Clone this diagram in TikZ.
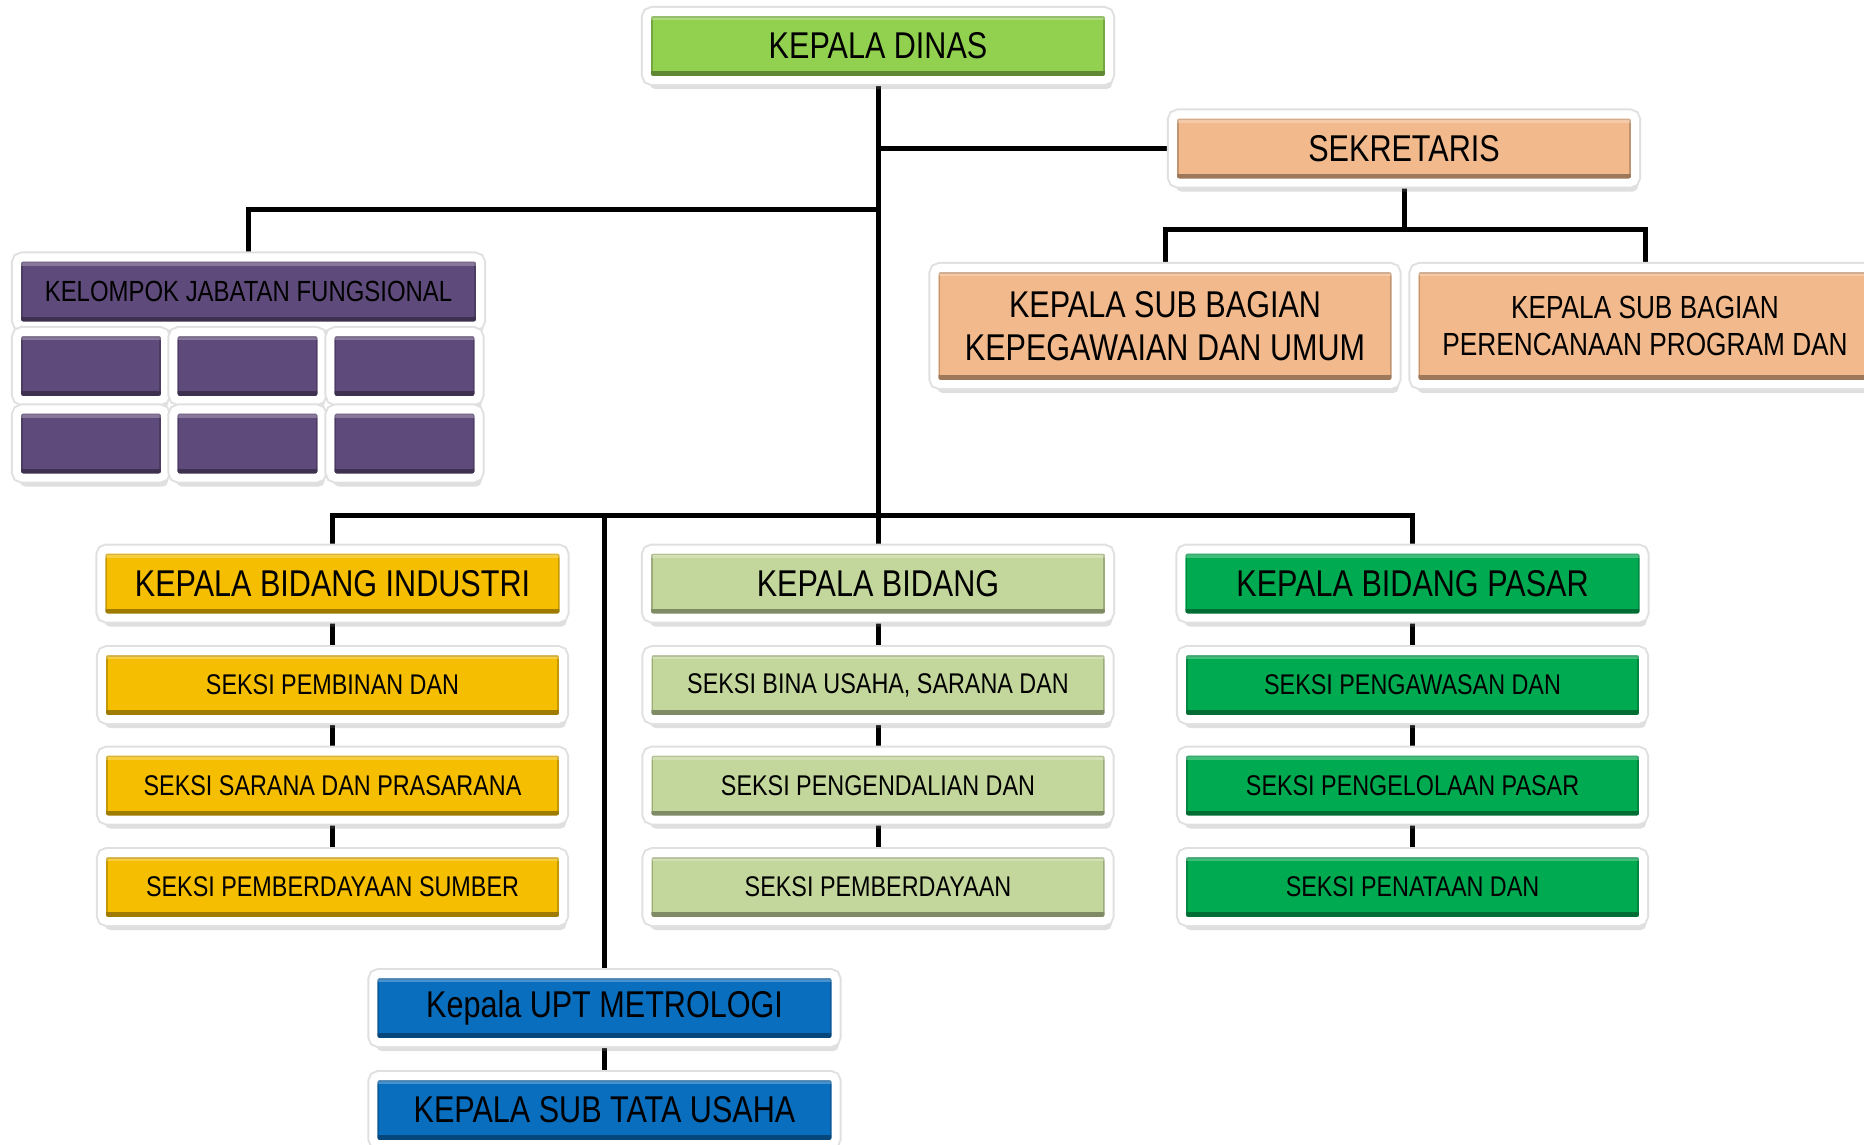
\documentclass[tikz,border=0pt]{standalone}
\usepackage{fontspec}
\setmainfont{Liberation Sans}[FakeStretch=0.82]
\usepackage{xcolor}
\usepackage{tikz}
\usetikzlibrary{shadows}
\definecolor{dinasgreen}{HTML}{92D050}
\definecolor{sekorange}{HTML}{F1B98C}
\definecolor{fungpurple}{HTML}{5F4B7B}
\definecolor{indgold}{HTML}{F5BE00}
\definecolor{bidsage}{HTML}{C3D69B}
\definecolor{pasgreen}{HTML}{00AA50}
\definecolor{uptblue}{HTML}{0A6EBE}
\pgfdeclarelayer{background}
\pgfsetlayers{background,main}
\tikzset{
    orgbox/.style = {rectangle, fill=#1, draw=white, line width=0.08cm, rounded corners=1.5pt,
        inner sep=0pt, align=center, text=black,
        drop shadow={shadow xshift=0.03cm, shadow yshift=-0.09cm, opacity=0.25},
        preaction={draw=black!12, line width=0.12cm},
        path picture={
            \draw[sharp corners, #1!80!black, line width=0.5pt]
                ([shift={(0.05cm,0.05cm)}]path picture bounding box.south west) rectangle
                ([shift={(-0.05cm,-0.05cm)}]path picture bounding box.north east);
            \fill[sharp corners, #1!65!black]
                ([shift={(0.04cm,0.04cm)}]path picture bounding box.south west) rectangle
                ([shift={(-0.04cm,0.09cm)}]path picture bounding box.south east);
            \fill[sharp corners, white, opacity=0.25]
                ([shift={(0.04cm,-0.04cm)}]path picture bounding box.north west) rectangle
                ([shift={(-0.04cm,-0.08cm)}]path picture bounding box.north east);
        }},
    headbox/.style = {orgbox=#1, minimum width=4.62cm, minimum height=0.68cm, font=\fontsize{10.6}{12}\selectfont},
    seksibox/.style = {orgbox=#1, minimum width=4.61cm, minimum height=0.68cm, font=\fontsize{8.1}{9.5}\selectfont},
    subbox/.style = {orgbox=sekorange, minimum width=4.61cm, minimum height=1.16cm},
    fungbox/.style = {orgbox=fungpurple, minimum width=1.48cm, minimum height=0.68cm},
    orgline/.style = {draw=black, line width=0.05cm}
}

\begin{document}
\begin{tikzpicture}[x=0.01cm, y=-0.01cm]
            \useasboundingbox (0,0) rectangle (1864,1144);

            \node[headbox=dinasgreen] (dinas) at (878,46) {KEPALA DINAS};
            \node[headbox=sekorange] (sekretaris) at (1404,148.5) {SEKRETARIS};
            \node[subbox, font=\fontsize{10.6}{12.2}\selectfont] (subumum) at (1165,326)
                {KEPALA SUB BAGIAN\\KEPEGAWAIAN DAN UMUM};
            \node[subbox, font=\fontsize{9.1}{10.5}\selectfont] (subprogram) at (1645,326)
                {KEPALA SUB BAGIAN\\PERENCANAAN PROGRAM DAN};

            \node[orgbox=fungpurple, minimum width=4.63cm, minimum height=0.68cm,
                font=\fontsize{8.3}{10}\selectfont] (jabfung) at (248.5,291.5)
                {KELOMPOK JABATAN FUNGSIONAL};
            \foreach \col/\cx in {1/91, 2/247.5, 3/404.5}
                \foreach \row/\cy in {1/366, 2/443.5}
                    \node[fungbox] (fung\col\row) at (\cx,\cy) {};

            % bidang
            \node[headbox=indgold] (industri) at (332.5,583.5) {KEPALA BIDANG INDUSTRI};
            \node[headbox=bidsage] (bidang) at (878,583.5) {KEPALA BIDANG};
            \node[headbox=pasgreen] (pasar) at (1412.5,583.5) {KEPALA BIDANG PASAR};

            \node[seksibox=indgold] (indsek1) at (332.5,685) {SEKSI PEMBINAN DAN};
            \node[seksibox=indgold] (indsek2) at (332.5,785.5) {SEKSI SARANA DAN PRASARANA};
            \node[seksibox=indgold] (indsek3) at (332.5,887) {SEKSI PEMBERDAYAAN SUMBER};

            \node[seksibox=bidsage] (bidsek1) at (878,685) {SEKSI BINA USAHA, SARANA DAN};
            \node[seksibox=bidsage] (bidsek2) at (878,785.5) {SEKSI PENGENDALIAN DAN};
            \node[seksibox=bidsage] (bidsek3) at (878,887) {SEKSI PEMBERDAYAAN};

            \node[seksibox=pasgreen] (passek1) at (1412.5,685) {SEKSI PENGAWASAN DAN};
            \node[seksibox=pasgreen] (passek2) at (1412.5,785.5) {SEKSI PENGELOLAAN PASAR};
            \node[seksibox=pasgreen] (passek3) at (1412.5,887) {SEKSI PENATAAN DAN};

            % upt
            \node[headbox=uptblue] (upt) at (604.5,1008) {Kepala UPT METROLOGI};
            \node[headbox=uptblue] (tatausaha) at (604.5,1110) {KEPALA SUB TATA USAHA};

            \coordinate (bus) at (878,515);
            \coordinate (fungjoint) at (878,209);
            \coordinate (sekjoint) at (1404,229);

            \begin{pgfonlayer}{background}
                \draw[orgline] (dinas) -- (bidang);
                \draw[orgline] (dinas.south |- sekretaris.west) -- (sekretaris.west);
                \draw[orgline] (fungjoint) -| (jabfung.north);
                \draw[orgline] (sekretaris) -- (sekjoint);
                \draw[orgline] (subumum.north) |- (sekjoint) -| (subprogram.north);
                \draw[orgline] (industri.north) |- (bus) -| (pasar.north);
                \draw[orgline] (upt.north) -- (upt.north |- bus);
                \draw[orgline] (industri) -- (indsek3);
                \draw[orgline] (bidang) -- (bidsek3);
                \draw[orgline] (pasar) -- (passek3);
                \draw[orgline] (upt) -- (tatausaha);
            \end{pgfonlayer}
\end{tikzpicture}
\end{document}
